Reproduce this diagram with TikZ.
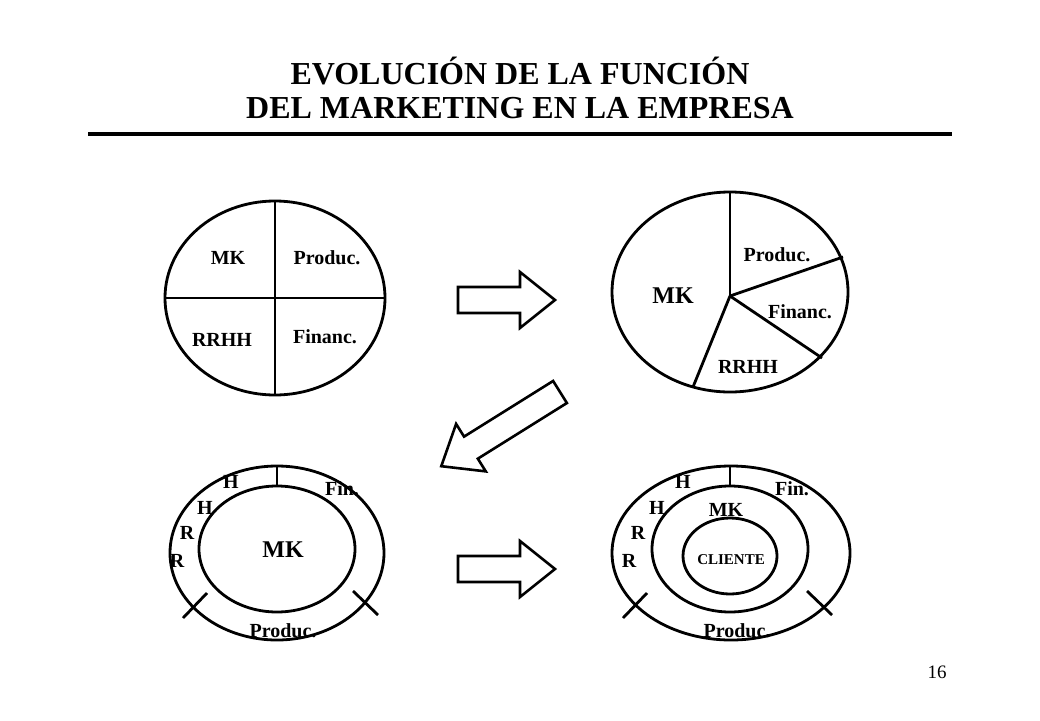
\documentclass[tikz,border=0pt]{standalone}
\usepackage{fontspec}
\setmainfont{Liberation Serif}
\usetikzlibrary{positioning}
\tikzset{
  pics/blockarrow/.style={code={
    \draw[line width=2.6pt,fill=white] (0,-13)--(#1-35,-13)--(#1-35,-28)--(#1,0)--(#1-35,28)--(#1-35,13)--(0,13)--cycle;}},
  lbl/.style={font=\bfseries\fontsize{20}{22}\selectfont, inner sep=1pt},
  biglbl/.style={font=\bfseries\fontsize{24}{26}\selectfont, inner sep=1pt},
  pie/.style={line width=2.8pt}
}
\begin{document}
\begin{tikzpicture}[x=1pt,y=-1pt]
\useasboundingbox (0,0) rectangle (1040,720);
% title
\node[font=\bfseries\fontsize{32}{34}\selectfont, align=center] (title) at (520,88) {EVOLUCIÓN DE LA FUNCIÓN\\DEL MARKETING EN LA EMPRESA};
\draw[line width=4.5pt] (88,134) -- (952,134);
% first pie
\draw[pie] (275,298) ellipse [x radius=110, y radius=97];
\draw[pie] (275,201) -- (275,395);
\draw[pie] (165,298) -- (385,298);
\node[lbl] (mk1) at (228,258) {MK};
\node[lbl] (pr1) at (327,258) {Produc.};
\node[lbl] (rh1) at (222,340) {RRHH};
\node[lbl] (fi1) at (325,337) {Financ.};
% second pie
\draw[pie] (730,292) ellipse [x radius=118, y radius=100];
\coordinate (c2) at (730,296);
\draw[pie] (c2) -- (730,192);
\draw[pie] (c2) -- (843,257);
\draw[pie] (c2) -- (822,358);
\draw[pie] (c2) -- (693,387);
\node[lbl] (pr2) at (777,255) {Produc.};
\node[biglbl] (mk2) at (673,296) {MK};
\node[lbl] (fi2) at (800,312) {Financ.};
\node[lbl] (rh2) at (748,367) {RRHH};
% arrows
\pic at (458,300) {blockarrow=97};
\pic at (458,569) {blockarrow=97};
\pic[rotate=212] at (560,392) {blockarrow=140};
% third
\draw[pie] (277,553) ellipse [x radius=107, y radius=87];
\draw[pie] (277,549) ellipse [x radius=78, y radius=63];
\draw[pie] (277,466) -- (277,487);
\draw[pie] (183,618) -- (207,593);
\draw[pie] (378,615) -- (353,591);
\node[lbl] (h3a) at (231,482) {H};
\node[lbl] (h3b) at (205,508) {H};
\node[lbl] (r3a) at (187,533) {R};
\node[lbl] (r3b) at (177,561) {R};
\node[lbl] (fi3) at (342,489) {Fin.};
\node[biglbl] (mk3) at (283,550) {MK};
\node[lbl] (pr3) at (283,631) {Produc.};
% fourth
\draw[pie] (731,553) ellipse [x radius=119, y radius=87];
\draw[pie] (730,549) ellipse [x radius=78, y radius=63];
\draw[pie] (730,556) ellipse [x radius=47, y radius=38];
\draw[pie] (730,466) -- (730,487);
\draw[pie] (623,618) -- (647,593);
\draw[pie] (832,615) -- (807,591);
\node[lbl] (h4a) at (683,482) {H};
\node[lbl] (h4b) at (657,508) {H};
\node[lbl] (r4a) at (638,533) {R};
\node[lbl] (r4b) at (629,561) {R};
\node[lbl] (fi4) at (792,489) {Fin.};
\node[lbl] (mk4) at (726,510) {MK};
\node[font=\bfseries\fontsize{15}{17}\selectfont] (cl4) at (731,560) {CLIENTE};
\node[lbl] (pr4) at (737,631) {Produc.};
\node[font=\fontsize{19}{21}\selectfont] (pg) at (937,672) {16};
\end{tikzpicture}
\end{document}
